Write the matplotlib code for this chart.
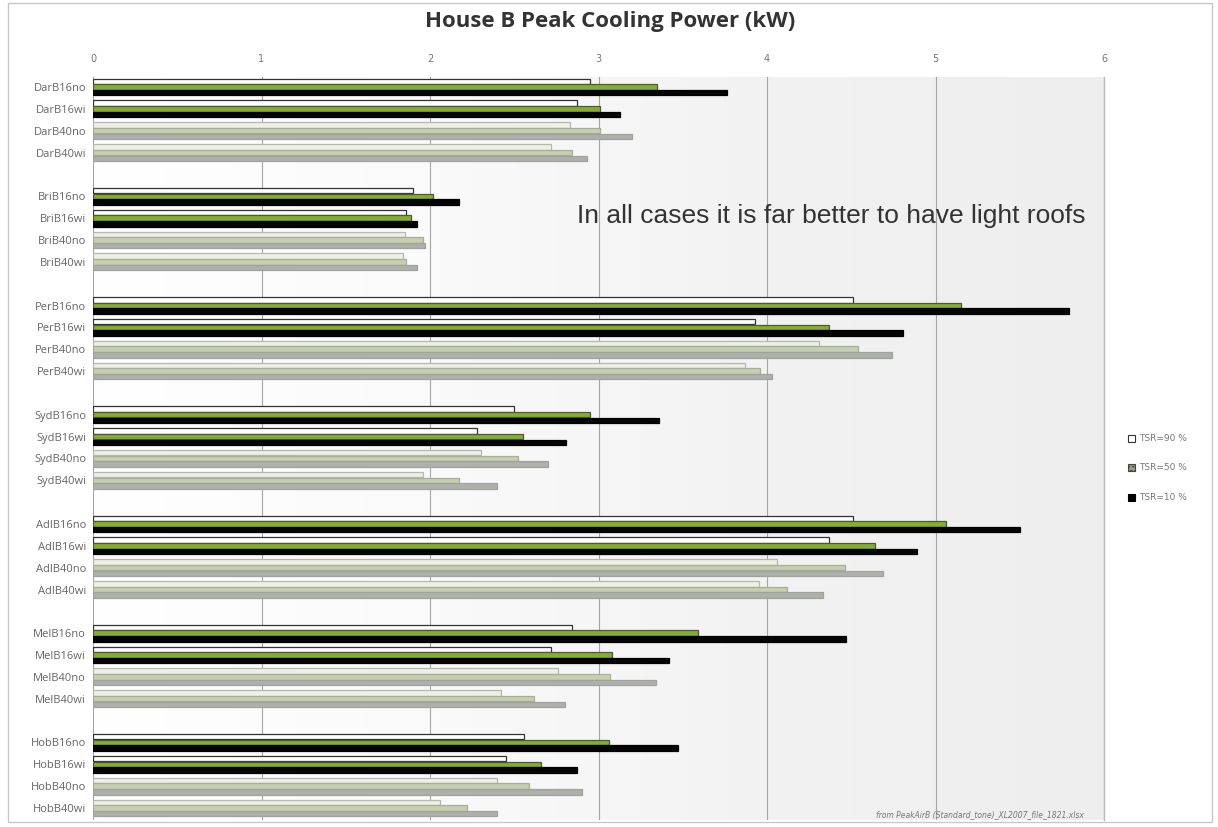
import numpy as np
import matplotlib
matplotlib.use("Agg")
import matplotlib.pyplot as plt
from matplotlib.patches import Rectangle

# ---- data ----
cities = ["Dar", "Bri", "Per", "Syd", "Adl", "Mel", "Hob"]
variants = ["B16no", "B16wi", "B40no", "B40wi"]
categories = [c + v for c in cities for v in variants]

tsr90 = [2.95, 2.87, 2.83, 2.72,
         1.90, 1.86, 1.85, 1.84,
         4.51, 3.93, 4.31, 3.87,
         2.50, 2.28, 2.30, 1.96,
         4.51, 4.37, 4.06, 3.95,
         2.84, 2.72, 2.76, 2.42,
         2.56, 2.45, 2.40, 2.06]
tsr50 = [3.35, 3.01, 3.01, 2.84,
         2.02, 1.89, 1.96, 1.86,
         5.15, 4.37, 4.54, 3.96,
         2.95, 2.55, 2.52, 2.17,
         5.06, 4.64, 4.46, 4.12,
         3.59, 3.08, 3.07, 2.62,
         3.06, 2.66, 2.59, 2.22]
tsr10 = [3.76, 3.13, 3.20, 2.93,
         2.17, 1.92, 1.97, 1.92,
         5.79, 4.81, 4.74, 4.03,
         3.36, 2.81, 2.70, 2.40,
         5.50, 4.89, 4.69, 4.33,
         4.47, 3.42, 3.34, 2.80,
         3.47, 2.87, 2.90, 2.40]
series_labels = ["TSR=90 %", "TSR=50 %", "TSR=10 %"]
xticks = [0, 1, 2, 3, 4, 5, 6]

# ---- positions ----
ypos = []
for gi, c in enumerate(cities):
    for vi, v in enumerate(variants):
        ypos.append(gi * 5 + vi)
ypos = np.array(ypos, dtype=float)

fig = plt.figure(figsize=(12.18, 8.27), dpi=100)
fig.patch.set_facecolor("white")
ax = fig.add_axes([93 / 1218, 1 - 820 / 827, (1104 - 93) / 1218, (820 - 77) / 827])

# background gradient (white -> light grey)
grad = np.linspace(0, 1, 256).reshape(1, -1)
ax.imshow(grad, extent=[0, 6, 33.55, -0.46], aspect="auto",
          cmap=matplotlib.colors.LinearSegmentedColormap.from_list(
              "bg", ["#ffffff", "#fafafa", "#f2f2f2", "#eeeeee"]),
          zorder=0, interpolation="bilinear")

h = 0.25
is16 = np.array(["B16" in c for c in categories])

face90 = np.where(is16, "#ffffff", "#eef0e6")
edge90 = np.where(is16, "#333333", "#b5b8ae")
face50 = np.where(is16, "#86ad2e", "#c6cfae")
edge50 = np.where(is16, "#4d5a3a", "#a8ad9c")
face10 = np.where(is16, "#050505", "#aeb0ab")
edge10 = np.where(is16, "#000000", "#a0a29e")

ax.barh(ypos - 0.26, tsr90, height=h, color=face90, edgecolor=edge90, linewidth=0.9, zorder=3)
ax.barh(ypos, tsr50, height=h, color=face50, edgecolor=edge50, linewidth=0.9, zorder=3)
ax.barh(ypos + 0.26, tsr10, height=h, color=face10, edgecolor=edge10, linewidth=0.9, zorder=3)

ax.set_xlim(0, 6)
ax.set_ylim(33.55, -0.46)
ax.set_xticks(xticks)
ax.xaxis.tick_top()
ax.tick_params(axis="x", labelsize=7, colors="#777777", length=0, pad=9)
ax.set_yticks(ypos)
ax.set_yticklabels(categories, fontsize=8, color="#666666", family="Open Sans")
ax.tick_params(axis="y", length=0, pad=5)
ax.grid(axis="x", color="#a5a5a5", linewidth=0.8, zorder=1)
ax.set_axisbelow(True)
for s in ["top", "bottom", "left"]:
    ax.spines[s].set_visible(False)
ax.spines["right"].set_color("#bbbbbb")
ax.spines["right"].set_linewidth(1.0)

# title
fig.text(610 / 1218, 1 - 22 / 827, "House B Peak Cooling Power (kW)", ha="center", va="center",
         fontsize=16, fontweight="bold", color="#333333", family="Open Sans")

# annotation
ax.text(2.87, 5.9, "In all cases it is far better to have light roofs", fontsize=19,
        color="#333333", family="Liberation Sans", va="center", ha="left", zorder=5)

# footnote
ax.text(5.88, 33.3, "from PeakAirB (Standard_tone)_XL2007_file_1821.xlsx", fontsize=5.5,
        style="italic", color="#777777", ha="right", va="center", zorder=5)

# legend
lx = 1128 / 1218
ly = [1 - 437 / 827, 1 - 466 / 827, 1 - 496 / 827]
lfaces = ["#ffffff", "#9aa08c", "#000000"]
ledges = ["#333333", "#444444", "#000000"]
for y, lab, fc, ec in zip(ly, series_labels, lfaces, ledges):
    fig.patches.append(Rectangle((lx, y - 0.0055), 0.0055, 0.008, transform=fig.transFigure,
                                 facecolor=fc, edgecolor=ec, linewidth=0.8,
                                 hatch="...." if "50" in lab else None))
    fig.text(lx + 0.009, y - 0.0015, lab, fontsize=6.5, color="#777777", va="center", ha="left")

# chart border
fig.patches.append(Rectangle((8 / 1218, 1 - 822 / 827), (1212 - 8) / 1218, (822 - 3) / 827,
                             transform=fig.transFigure, facecolor="none",
                             edgecolor="#c8c8c8", linewidth=1.0))

fig.savefig("out.png", dpi=100)
